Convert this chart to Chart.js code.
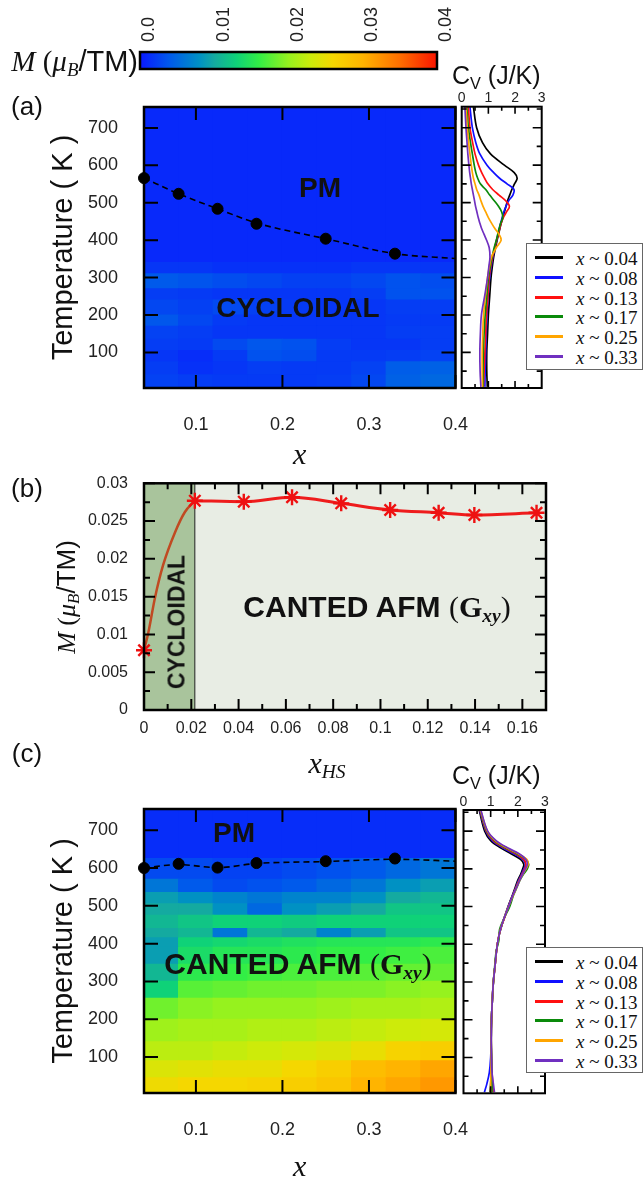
<!DOCTYPE html>
<html>
<head>
<meta charset="utf-8">
<script src="https://cdn.jsdelivr.net/npm/chart.js@4.4.1/dist/chart.umd.min.js"></script>
<style>
  body { margin:0; background:#fff; width:643px; height:1182px; position:relative; overflow:hidden;
         font-family:'Liberation Sans', Arial, sans-serif; color:#111; }
  canvas { position:absolute; }
  .t { position:absolute; white-space:nowrap; line-height:1; }
  .c { transform:translate(-50%,-50%); }
  .serif { font-family:'Liberation Serif', 'DejaVu Serif', serif; }
  .b { font-weight:bold; }
  sub { font-size:65%; vertical-align:-0.28em; line-height:0; }
  .legend { position:absolute; background:#fff; border:1px solid #666; box-sizing:border-box; }
  .legend div { position:absolute; left:8px; height:20px; width:110px; font-family:'Liberation Serif', serif; font-size:19px; }
  .legend span.ln { position:absolute; left:0; top:8px; width:28px; height:3px; }
  .legend span.tx { position:absolute; left:41px; top:0; }
</style>
</head>
<body>
<canvas id="cbar" width="460" height="80" style="left:0;top:0"></canvas>
<canvas id="mapA" width="486" height="392" style="left:0;top:78px"></canvas>
<canvas id="cvA" width="120" height="340" style="left:440px;top:60px"></canvas>
<canvas id="panelB" width="600" height="320" style="left:0;top:465px"></canvas>
<canvas id="mapC" width="486" height="447" style="left:0;top:735px"></canvas>
<canvas id="cvC" width="120" height="380" style="left:440px;top:720px"></canvas>

<!-- textos -->
<div class="t" style="right:505px;top:47px;font-size:29px"><span class="serif"><i>M</i> (<i>μ</i><sub><i>B</i></sub></span>/TM)</div>

<div class="t c" style="left:27px;top:106px;font-size:26px">(a)</div>
<div class="t c b" style="left:320px;top:188px;font-size:28px">PM</div>
<div class="t c b" style="left:298px;top:308px;font-size:28px">CYCLOIDAL</div>
<div class="t" style="left:452px;top:63px;font-size:25px">C<sub>V</sub> (J/K)</div>
<div class="legend" id="legA" style="left:526px;top:243px;width:117px;height:127px"></div>

<div class="t c" style="left:27px;top:488px;font-size:26px">(b)</div>
<div class="t c" style="left:66px;top:597px;font-size:26px;transform:translate(-50%,-50%) rotate(-90deg)"><span class="serif"><i>M</i> (<i>μ</i><sub><i>B</i></sub></span>/TM)</div>
<div class="t c b" style="left:177px;top:622px;font-size:23px;transform:translate(-50%,-50%) rotate(-90deg)">CYCLOIDAL</div>
<div class="t c" style="left:377px;top:607px;font-size:30px"><span class="b">CANTED AFM </span><span class="serif">(<b>G</b><sub><b><i>xy</i></b></sub>)</span></div>
<div class="t c serif" style="left:327px;top:763px;font-size:30px"><i>x</i><sub><i>HS</i></sub></div>

<div class="t c" style="left:27px;top:753px;font-size:26px">(c)</div>
<div class="t c b" style="left:234px;top:833px;font-size:28px">PM</div>
<div class="t c" style="left:298px;top:964px;font-size:30px"><span class="b">CANTED AFM </span><span class="serif">(<b>G</b><sub><b><i>xy</i></b></sub>)</span></div>
<div class="t" style="left:452px;top:763px;font-size:25px">C<sub>V</sub> (J/K)</div>
<div class="legend" id="legC" style="left:526px;top:947px;width:117px;height:126px"></div>

<script>
Chart.defaults.font.family = "'Liberation Sans', Arial, sans-serif";
Chart.defaults.color = '#222';
Chart.defaults.animation = false;

// ---- datos ----
// barra de color
const cbarTicks = [0, 0.01, 0.02, 0.03, 0.04];
const cbarLabels = ['0.0', '0.01', '0.02', '0.03', '0.04'];

// mapas: columnas en x y bandas de temperatura
const mapCols = [0.06, 0.10, 0.14, 0.18, 0.22, 0.26, 0.30, 0.34, 0.38];
const mapXTicks = [0.1, 0.2, 0.3, 0.4];
const tempTicks = [100, 200, 300, 400, 500, 600, 700];

const mapA_T = [5, 40, 75, 105, 135, 170, 200, 240, 270, 310, 340, 756];
const mapA = [
  [0.0025, 0.0022, 0.002, 0.002, 0.002, 0.0022, 0.0028, 0.0045, 0.005],
  [0.0022, 0.0015, 0.0018, 0.0022, 0.002, 0.002, 0.0025, 0.0042, 0.0045],
  [0.0018, 0.0012, 0.002, 0.0035, 0.0032, 0.002, 0.002, 0.0022, 0.0025],
  [0.0022, 0.002, 0.003, 0.0038, 0.0035, 0.0022, 0.0018, 0.0018, 0.0022],
  [0.0025, 0.0022, 0.0018, 0.0018, 0.0018, 0.0018, 0.0018, 0.0022, 0.0022],
  [0.0038, 0.0028, 0.002, 0.0018, 0.0018, 0.0018, 0.0018, 0.002, 0.002],
  [0.0028, 0.0024, 0.003, 0.0024, 0.002, 0.0018, 0.0018, 0.0022, 0.0022],
  [0.0022, 0.002, 0.0018, 0.0018, 0.0018, 0.0018, 0.0022, 0.0035, 0.0035],
  [0.004, 0.0036, 0.0032, 0.0028, 0.0024, 0.0024, 0.0028, 0.0035, 0.0032],
  [0.0018, 0.0018, 0.0015, 0.0015, 0.0015, 0.0015, 0.0018, 0.0018, 0.0018],
  [0.001, 0.001, 0.001, 0.001, 0.001, 0.001, 0.001, 0.001, 0.001]
];

const mapC_T = [5, 45, 90, 140, 200, 255, 300, 345, 390, 415, 440, 475, 505, 535, 570, 625, 756];
const mapC = [
  [0.0255, 0.026, 0.026, 0.0265, 0.027, 0.028, 0.030, 0.031, 0.032],
  [0.024, 0.0245, 0.025, 0.025, 0.026, 0.027, 0.029, 0.030, 0.031],
  [0.022, 0.022, 0.0225, 0.023, 0.0235, 0.024, 0.025, 0.0265, 0.027],
  [0.0205, 0.021, 0.021, 0.0215, 0.0215, 0.022, 0.0225, 0.023, 0.0235],
  [0.0185, 0.0195, 0.02, 0.02, 0.02, 0.0205, 0.021, 0.021, 0.0215],
  [0.013, 0.0175, 0.018, 0.0185, 0.0185, 0.019, 0.019, 0.0195, 0.02],
  [0.011, 0.0155, 0.016, 0.0165, 0.017, 0.017, 0.0175, 0.018, 0.018],
  [0.009, 0.014, 0.015, 0.015, 0.0155, 0.016, 0.016, 0.0165, 0.017],
  [0.009, 0.013, 0.0135, 0.014, 0.0145, 0.015, 0.015, 0.015, 0.0155],
  [0.010, 0.011, 0.006, 0.011, 0.010, 0.007, 0.009, 0.012, 0.012],
  [0.011, 0.012, 0.013, 0.013, 0.0125, 0.013, 0.013, 0.013, 0.013],
  [0.010, 0.010, 0.008, 0.005, 0.008, 0.009, 0.010, 0.012, 0.012],
  [0.009, 0.008, 0.007, 0.006, 0.007, 0.007, 0.008, 0.010, 0.011],
  [0.006, 0.004, 0.003, 0.0035, 0.004, 0.005, 0.006, 0.008, 0.009],
  [0.003, 0.003, 0.0025, 0.0025, 0.003, 0.0035, 0.004, 0.005, 0.006],
  [0.0012, 0.0012, 0.0012, 0.0012, 0.0012, 0.0012, 0.0012, 0.0012, 0.0012]
];

// temperaturas de transición
const tnX = [0.04, 0.08, 0.125, 0.17, 0.25, 0.33];
const tnA = [566, 524, 484, 444, 404, 364];
const fitA_X = [0.04, 0.08, 0.125, 0.17, 0.25, 0.33, 0.4];
const fitA_T = [566, 524, 484, 446, 404, 364, 351];
const tnC = [600, 611, 601, 613, 618, 625];
const fitC_X = [0.04, 0.08, 0.125, 0.17, 0.25, 0.33, 0.4];
const fitC_T = [600, 609, 601, 612, 617, 623, 618];

// panel (b)
const bX = [0, 0.0215, 0.0422, 0.0626, 0.0834, 0.1041, 0.1246, 0.1397, 0.166];
const bM = [0.0079, 0.0277, 0.02757, 0.02815, 0.02735, 0.02647, 0.02611, 0.0258, 0.0261];
const cycX = [0, 0.0018, 0.0046, 0.0081, 0.0131, 0.0173, 0.0215];
const cycM = [0.0079, 0.0102, 0.0148, 0.0192, 0.0235, 0.0262, 0.0277];
const bBoundary = 0.0215;
const bXTicks = [0, 0.02, 0.04, 0.06, 0.08, 0.1, 0.12, 0.14, 0.16];
const bYTicks = [0, 0.005, 0.01, 0.015, 0.02, 0.025, 0.03];

// calor específico
const cvLabels = ['x ~ 0.04', 'x ~ 0.08', 'x ~ 0.13', 'x ~ 0.17', 'x ~ 0.25', 'x ~ 0.33'];
const cvColors = ['#000000', '#1010ff', '#ff1010', '#0a8a0a', '#ffa500', '#7030c0'];
const cvTicks = [0, 1, 2, 3];

const cvA_T = [755, 700, 660, 630, 600, 580, 565, 550, 535, 520, 505, 490, 475, 460, 445, 430, 415, 400, 380, 355, 330, 300, 250, 200, 150, 100, 50, 8];
const cvA_004 = [0.44, 0.56, 0.78, 1.08, 1.6, 1.97, 2.08, 1.98, 1.88, 1.8, 1.72, 1.66, 1.6, 1.54, 1.48, 1.43, 1.38, 1.33, 1.27, 1.2, 1.15, 1.1, 1.05, 1.0, 0.97, 0.94, 0.94, 0.96];
const cvA_008 = [0.31, 0.40, 0.53, 0.68, 0.95, 1.2, 1.42, 1.7, 1.96, 1.92, 1.76, 1.66, 1.58, 1.52, 1.46, 1.41, 1.36, 1.31, 1.25, 1.17, 1.11, 1.05, 0.99, 0.95, 0.92, 0.9, 0.88, 0.87];
const cvA_013 = [0.25, 0.31, 0.41, 0.5, 0.63, 0.75, 0.86, 0.98, 1.16, 1.4, 1.65, 1.79, 1.68, 1.56, 1.48, 1.42, 1.37, 1.31, 1.24, 1.16, 1.09, 1.03, 0.98, 0.93, 0.9, 0.87, 0.84, 0.81];
const cvA_017 = [0.19, 0.25, 0.33, 0.4, 0.47, 0.53, 0.6, 0.7, 0.9, 1.05, 1.22, 1.38, 1.5, 1.54, 1.46, 1.4, 1.35, 1.3, 1.22, 1.14, 1.07, 1.0, 0.94, 0.88, 0.84, 0.81, 0.8, 0.8];
const cvA_025 = [0.16, 0.21, 0.26, 0.31, 0.36, 0.4, 0.44, 0.5, 0.56, 0.65, 0.72, 0.8, 0.9, 1.0, 1.12, 1.25, 1.4, 1.48, 1.3, 1.12, 1.04, 0.97, 0.89, 0.82, 0.79, 0.77, 0.77, 0.78];
const cvA_033 = [0.12, 0.16, 0.2, 0.23, 0.27, 0.3, 0.33, 0.36, 0.4, 0.44, 0.48, 0.52, 0.57, 0.62, 0.68, 0.75, 0.84, 0.93, 1.03, 1.06, 1.02, 0.97, 0.86, 0.74, 0.7, 0.68, 0.69, 0.72];

const cvC_T = [755, 700, 675, 655, 640, 625, 612, 600, 585, 570, 550, 530, 500, 470, 440, 410, 380, 350, 300, 250, 200, 150, 100, 60, 30, 8];
const cvC_004 = [0.58, 0.78, 1.0, 1.38, 1.75, 2.1, 2.22, 2.18, 2.1, 2.0, 1.9, 1.8, 1.64, 1.5, 1.37, 1.27, 1.21, 1.17, 1.1, 1.06, 1.03, 1.02, 1.03, 1.02, 1.0, 0.98];
const cvC_008 = [0.6, 0.82, 1.06, 1.46, 1.85, 2.18, 2.28, 2.22, 2.13, 2.03, 1.92, 1.81, 1.65, 1.5, 1.36, 1.27, 1.21, 1.17, 1.1, 1.06, 1.03, 1.02, 1.0, 0.95, 0.86, 0.77];
const cvC_013 = [0.61, 0.84, 1.1, 1.52, 1.92, 2.22, 2.3, 2.25, 2.15, 2.05, 1.93, 1.82, 1.66, 1.51, 1.36, 1.27, 1.21, 1.17, 1.1, 1.06, 1.03, 1.02, 1.03, 1.05, 1.08, 1.1];
const cvC_017 = [0.62, 0.86, 1.14, 1.56, 1.97, 2.3, 2.4, 2.35, 2.2, 2.08, 1.96, 1.84, 1.7, 1.5, 1.33, 1.3, 1.2, 1.16, 1.1, 1.06, 1.03, 1.02, 1.03, 1.04, 1.05, 1.05];
const cvC_025 = [0.63, 0.88, 1.17, 1.6, 2.02, 2.33, 2.38, 2.3, 2.18, 2.07, 1.95, 1.83, 1.66, 1.5, 1.36, 1.27, 1.21, 1.17, 1.1, 1.06, 1.03, 1.02, 1.02, 1.01, 1.0, 1.0];
const cvC_033 = [0.64, 0.89, 1.2, 1.64, 2.05, 2.3, 2.35, 2.28, 2.17, 2.07, 1.95, 1.82, 1.66, 1.5, 1.36, 1.27, 1.21, 1.17, 1.1, 1.06, 1.03, 1.02, 1.03, 1.05, 1.1, 1.14];

// ---- estilo ----
const cmapStops = [
  [0.000, [10, 25, 255]], [0.004, [0, 90, 235]], [0.008, [0, 145, 195]], [0.010, [20, 170, 160]],
  [0.013, [15, 210, 120]], [0.016, [50, 238, 70]], [0.020, [150, 242, 30]], [0.023, [205, 235, 10]],
  [0.026, [245, 215, 0]], [0.030, [255, 180, 0]], [0.035, [255, 110, 0]], [0.040, [250, 20, 0]]
];
function cmap(v) {
  for (let i = 1; i < cmapStops.length; i++) {
    const [v1, c1] = cmapStops[i];
    const [v0, c0] = cmapStops[i - 1];
    if (v <= v1 || i === cmapStops.length - 1) {
      const f = Math.max(0, Math.min(1, (v - v0) / (v1 - v0)));
      const c = c0.map((a, k) => Math.round(a + (c1[k] - a) * f));
      return `rgb(${c[0]},${c[1]},${c[2]})`;
    }
  }
}
const fmt = v => String(Math.round(v * 10000) / 10000);
const setTicks = arr => s => { s.ticks = arr.map(v => ({ value: v })); };

// marco y marcas interiores
function frameTicks(spec) {
  return {
    id: 'frameTicks',
    afterDatasetsDraw(chart) {
      const { ctx, chartArea: a } = chart;
      ctx.save();
      ctx.strokeStyle = '#000';
      ctx.lineWidth = spec.width || 2;
      ctx.beginPath();
      spec.axes.forEach(ax => {
        const s = chart.scales[ax.id];
        const marks = ax.major.map(v => [v, ax.len]).concat((ax.minor || []).map(v => [v, ax.minorLen]));
        marks.forEach(([v, len]) => {
          const p = s.getPixelForValue(v);
          if (s.isHorizontal()) {
            ctx.moveTo(p, a.bottom); ctx.lineTo(p, a.bottom - len);
            ctx.moveTo(p, a.top); ctx.lineTo(p, a.top + len);
          } else {
            ctx.moveTo(a.left, p); ctx.lineTo(a.left + len, p);
            ctx.moveTo(a.right, p); ctx.lineTo(a.right - len, p);
          }
        });
      });
      ctx.stroke();
      ctx.lineWidth = spec.frame || 2.5;
      ctx.strokeRect(a.left, a.top, a.right - a.left, a.bottom - a.top);
      ctx.restore();
    }
  };
}

// ---- barra de color ----
new Chart(document.getElementById('cbar'), {
  type: 'bar',
  data: {
    labels: ['M'],
    datasets: [{
      data: [[cbarTicks[0], cbarTicks[cbarTicks.length - 1]]],
      barPercentage: 1, categoryPercentage: 1, borderWidth: 0,
      backgroundColor: ctx => {
        const ch = ctx.chart;
        if (!ch.chartArea) return '#00f';
        const xs = ch.scales.x;
        const g = ch.ctx.createLinearGradient(xs.getPixelForValue(0), 0, xs.getPixelForValue(0.04), 0);
        cmapStops.forEach(([v, c]) => g.addColorStop(v / 0.04, `rgb(${c[0]},${c[1]},${c[2]})`));
        return g;
      }
    }]
  },
  options: {
    indexAxis: 'y', responsive: false,
    layout: { padding: { left: 140, right: 23, top: 0, bottom: 11 } },
    plugins: { legend: { display: false }, tooltip: { enabled: false } },
    scales: {
      x: {
        type: 'linear', position: 'top', min: 0, max: 0.04, z: 1,
        afterBuildTicks: setTicks(cbarTicks),
        afterFit: s => { s.height = 52; },
        grid: { color: '#000', lineWidth: 2, drawTicks: false },
        border: { display: false },
        ticks: { minRotation: 90, maxRotation: 90, padding: 10, labelOffset: 31, font: { size: 18 }, color: '#222',
                 callback: (v, i) => cbarLabels[i] }
      },
      y: { display: false }
    }
  },
  plugins: [frameTicks({ axes: [], frame: 2.5 })]
});

// ---- mapas de calor ----
function makeMap(id, rowsT, grid, tn, fitX, fitT, padTop, xHeight, titlePad) {
  const datasets = grid.map((row, r) => ({
    type: 'bar', order: 10, grouped: false,
    data: mapCols.map(c => ({ x: c, y: [rowsT[r], rowsT[r + 1]] })),
    backgroundColor: row.map(cmap),
    borderWidth: 0, barPercentage: 1, categoryPercentage: 1, inflateAmount: 0.6
  }));
  datasets.push({
    type: 'line', order: 1, data: fitX.map((x, i) => ({ x, y: fitT[i] })),
    borderColor: '#000', borderWidth: 1.6, borderDash: [6, 4], pointRadius: 0, tension: 0.4,
    cubicInterpolationMode: 'monotone', fill: false
  });
  datasets.push({
    type: 'line', order: 0, data: tnX.map((x, i) => ({ x, y: tn[i] })),
    showLine: false, pointRadius: 5.5, pointBackgroundColor: '#000', pointBorderColor: '#000', clip: false
  });
  new Chart(document.getElementById(id), {
    type: 'bar',
    data: { datasets },
    options: {
      responsive: false,
      layout: { padding: { left: 0, right: 30.5, top: padTop, bottom: 0 } },
      plugins: { legend: { display: false }, tooltip: { enabled: false } },
      scales: {
        x: {
          type: 'linear', min: 0.04, max: 0.4, offset: false,
          afterBuildTicks: setTicks(mapXTicks),
          afterFit: s => { s.height = xHeight; },
          grid: { display: false }, border: { display: false },
          ticks: { padding: 18, font: { size: 18 }, color: '#222', callback: v => fmt(v) },
          title: { display: true, text: 'x', padding: { top: 0, bottom: titlePad },
                   font: { family: "'Liberation Serif', serif", style: 'italic', size: 30 }, color: '#111' }
        },
        y: {
          type: 'linear', min: 5, max: 756,
          afterBuildTicks: setTicks(tempTicks),
          afterFit: s => { s.width = 144; },
          grid: { display: false }, border: { display: false },
          ticks: { padding: 18, font: { size: 18 }, color: '#222' },
          title: { display: true, text: 'Temperature ( K )', padding: { top: 47, bottom: 0 },
                   font: { size: 29 }, color: '#111' }
        }
      }
    },
    plugins: [frameTicks({
      width: 2,
      axes: [{ id: 'x', major: mapXTicks, len: 13 }, { id: 'y', major: tempTicks, len: 14 }]
    })]
  });
}
makeMap('mapA', mapA_T, mapA, tnA, fitA_X, fitA_T, 29, 82, -4);
makeMap('mapC', mapC_T, mapC, tnC, fitC_X, fitC_T, 74, 89, -4);

// ---- calor específico ----
function makeCv(id, T, series, pad, tickPad, xHeight) {
  new Chart(document.getElementById(id), {
    type: 'line',
    data: {
      datasets: series.map((s, i) => ({
        label: cvLabels[i], order: 5 - i,
        data: T.map((t, k) => ({ x: s[k], y: t })),
        borderColor: cvColors[i], borderWidth: 1.7, pointRadius: 0, tension: 0.35, fill: false
      }))
    },
    options: {
      responsive: false,
      layout: { padding: pad },
      plugins: { legend: { display: false }, tooltip: { enabled: false } },
      scales: {
        x: {
          type: 'linear', position: 'top', min: 0, max: 3,
          afterBuildTicks: setTicks(cvTicks),
          afterFit: s => { s.height = xHeight; },
          grid: { display: false }, border: { display: false },
          ticks: { padding: tickPad, font: { size: 14 }, color: '#222', maxRotation: 0 }
        },
        y: { type: 'linear', min: 5, max: 756, display: false }
      }
    },
    plugins: [frameTicks({
      width: 1.6, frame: 2,
      axes: [
        { id: 'x', major: [1, 2], len: 7, minor: [0.5, 1.5, 2.5], minorLen: 4 },
        { id: 'y', major: tempTicks, len: 9, minor: [50, 150, 250, 350, 450, 550, 650, 750], minorLen: 5 }
      ]
    })]
  });
}
makeCv('cvA', cvA_T, [cvA_004, cvA_008, cvA_013, cvA_017, cvA_025, cvA_033],
       { left: 21.7, right: 18.3, top: 0, bottom: 12 }, -8, 46.7);
makeCv('cvC', cvC_T, [cvC_004, cvC_008, cvC_013, cvC_017, cvC_025, cvC_033],
       { left: 23.5, right: 15, top: 0, bottom: 6.7 }, -9, 90);

// leyendas
['legA', 'legC'].forEach(id => {
  const box = document.getElementById(id);
  cvLabels.forEach((lab, i) => {
    const row = document.createElement('div');
    row.style.top = (4 + i * 19.8) + 'px';
    const parts = lab.split(' ');
    row.innerHTML = `<span class="ln" style="background:${cvColors[i]}"></span>` +
      `<span class="tx"><i>${parts[0]}</i> ${parts[1]} ${parts[2]}</span>`;
    box.appendChild(row);
  });
});

// ---- panel (b) ----
const phaseShade = {
  id: 'phaseShade',
  beforeDatasetsDraw(chart) {
    const { ctx, chartArea: a, scales: { x } } = chart;
    const xb = x.getPixelForValue(bBoundary);
    ctx.save();
    ctx.fillStyle = '#e8ede4';
    ctx.fillRect(a.left, a.top, a.right - a.left, a.bottom - a.top);
    ctx.fillStyle = '#a9c49c';
    ctx.fillRect(a.left, a.top, xb - a.left, a.bottom - a.top);
    ctx.strokeStyle = '#222';
    ctx.lineWidth = 1;
    ctx.beginPath(); ctx.moveTo(xb, a.top); ctx.lineTo(xb, a.bottom); ctx.stroke();
    ctx.restore();
  }
};
new Chart(document.getElementById('panelB'), {
  type: 'line',
  data: {
    datasets: [
      { data: bX.slice(1).map((x, i) => ({ x, y: bM[i + 1] })), borderColor: '#ee1c1c', borderWidth: 3,
        pointRadius: 0, cubicInterpolationMode: 'monotone', order: 2 },
      { data: cycX.map((x, i) => ({ x, y: cycM[i] })), borderColor: '#c04a22', borderWidth: 2.5,
        pointRadius: 0, cubicInterpolationMode: 'monotone', order: 1 },
      { data: bX.map((x, i) => ({ x, y: bM[i] })), showLine: false, pointStyle: 'star', pointRadius: 8,
        pointBorderWidth: 2.4, pointBorderColor: '#ee1111', clip: false, order: 0 }
    ]
  },
  options: {
    responsive: false,
    layout: { padding: { left: 0, right: 54, top: 18.3, bottom: 35 } },
    plugins: { legend: { display: false }, tooltip: { enabled: false } },
    scales: {
      x: {
        type: 'linear', min: 0, max: 0.17,
        afterBuildTicks: setTicks(bXTicks),
        afterFit: s => { s.height = 40; },
        grid: { display: false }, border: { display: false },
        ticks: { padding: 1, font: { size: 16 }, color: '#222', maxRotation: 0, callback: v => fmt(v) }
      },
      y: {
        type: 'linear', min: 0, max: 0.03,
        afterBuildTicks: setTicks(bYTicks),
        afterFit: s => { s.width = 144; },
        grid: { display: false }, border: { display: false },
        ticks: { padding: 8, font: { size: 16 }, color: '#222', callback: v => fmt(v) }
      }
    }
  },
  plugins: [phaseShade, frameTicks({
    width: 2, frame: 2.5,
    axes: [
      { id: 'x', major: bXTicks, len: 11, minor: [0.01, 0.03, 0.05, 0.07, 0.09, 0.11, 0.13, 0.15], minorLen: 6 },
      { id: 'y', major: bYTicks, len: 11, minor: [0.0025, 0.0075, 0.0125, 0.0175, 0.0225, 0.0275], minorLen: 6 }
    ]
  })]
});
</script>
</body>
</html>
